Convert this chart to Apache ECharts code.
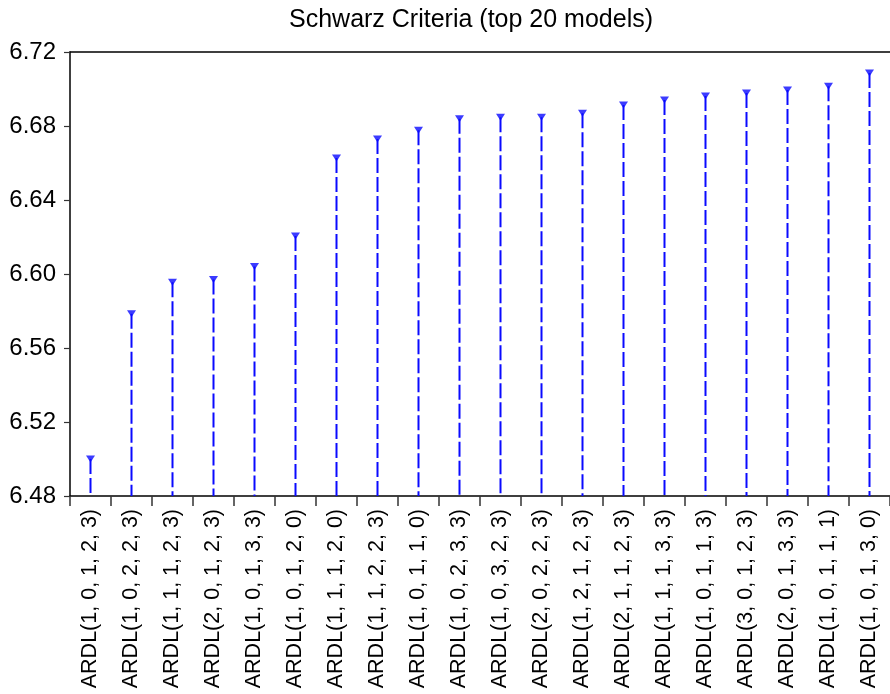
<!DOCTYPE html>
<html>
<head>
<meta charset="utf-8">
<title>Schwarz Criteria (top 20 models)</title>
<script src="https://cdn.jsdelivr.net/npm/echarts@6/dist/echarts.min.js"></script>
<style>
  html, body { margin: 0; padding: 0; background: #fff; }
  #chart { width: 890px; height: 694px; }
</style>
</head>
<body>
<div id="chart"></div>
<script>
// Model specifications, ordered from best (lowest) criterion value
const models = [
  'ARDL(1, 0, 1, 2, 3)', 'ARDL(1, 0, 2, 2, 3)', 'ARDL(1, 1, 1, 2, 3)', 'ARDL(2, 0, 1, 2, 3)',
  'ARDL(1, 0, 1, 3, 3)', 'ARDL(1, 0, 1, 2, 0)', 'ARDL(1, 1, 1, 2, 0)', 'ARDL(1, 1, 2, 2, 3)',
  'ARDL(1, 0, 1, 1, 0)', 'ARDL(1, 0, 2, 3, 3)', 'ARDL(1, 0, 3, 2, 3)', 'ARDL(2, 0, 2, 2, 3)',
  'ARDL(1, 2, 1, 2, 3)', 'ARDL(2, 1, 1, 2, 3)', 'ARDL(1, 1, 1, 3, 3)', 'ARDL(1, 0, 1, 1, 3)',
  'ARDL(3, 0, 1, 2, 3)', 'ARDL(2, 0, 1, 3, 3)', 'ARDL(1, 0, 1, 1, 1)', 'ARDL(1, 0, 1, 3, 0)'
];

// Schwarz information criterion for each model
const schwarz = [
  6.5000, 6.5785, 6.5955, 6.5970, 6.6040, 6.6205, 6.6627, 6.6730, 6.6777, 6.6839,
  6.6847, 6.6847, 6.6869, 6.6914, 6.6941, 6.6962, 6.6978, 6.6995, 6.7015, 6.7086
];

// Value axis range and step
const yMin = 6.48;
const yMax = 6.72;
const yStep = 0.04;

const blue = '#0a0aff';
const font = "'Liberation Sans', Arial, sans-serif";

const chart = echarts.init(document.getElementById('chart'), null, { renderer: 'canvas' });

chart.setOption({
  animation: false,
  backgroundColor: '#ffffff',
  title: {
    text: 'Schwarz Criteria (top 20 models)',
    left: 466,
    textAlign: 'center',
    top: 3,
    textStyle: { fontFamily: font, fontSize: 25, fontWeight: 'normal', color: '#000' }
  },
  grid: { left: 70, right: 0, top: 52, bottom: 198 },
  xAxis: [
    {
      type: 'category',
      data: models,
      axisLine: { show: true, lineStyle: { color: '#000', width: 1.5 } },
      axisTick: { show: true, length: 10, lineStyle: { color: '#333', width: 1.5 } },
      axisLabel: {
        rotate: 90, margin: 13, interval: 0,
        fontFamily: font, fontSize: 21.5, color: '#000'
      },
      splitLine: { show: false }
    },
    {
      // top frame line of the plot area
      type: 'category',
      data: models,
      position: 'top',
      axisLine: { show: true, lineStyle: { color: '#000', width: 1.5 } },
      axisTick: { show: false },
      axisLabel: { show: false },
      splitLine: { show: false }
    }
  ],
  yAxis: {
    type: 'value',
    min: yMin, max: yMax, interval: yStep,
    axisLine: { show: true, lineStyle: { color: '#000', width: 1.5 } },
    axisTick: { show: true, length: 6, lineStyle: { color: '#333', width: 1.2 } },
    axisLabel: {
      margin: 14,
      fontFamily: font, fontSize: 24, color: '#000',
      verticalAlign: 'middle', padding: [0, 0, 10, 0],
      formatter: v => v.toFixed(2)
    },
    splitLine: { show: false }
  },
  series: [
    {
      // dashed drop lines from each value down to the axis floor
      type: 'custom',
      data: schwarz.map((v, i) => [i, v]),
      renderItem: (params, api) => {
        const top = api.coord([api.value(0), api.value(1)]);
        const bottom = api.coord([api.value(0), yMin]);
        return {
          type: 'line',
          shape: { x1: top[0], y1: top[1], x2: bottom[0], y2: bottom[1] },
          style: { stroke: blue, lineWidth: 2, lineDash: [15, 4] }
        };
      },
      silent: true,
      z: 2
    },
    {
      // downward triangle markers at each value
      type: 'scatter',
      data: schwarz.map((v, i) => [i, v]),
      symbol: 'triangle',
      symbolRotate: 180,
      symbolSize: [9, 7],
      itemStyle: { color: blue },
      silent: true,
      z: 3
    }
  ]
});
</script>
</body>
</html>
